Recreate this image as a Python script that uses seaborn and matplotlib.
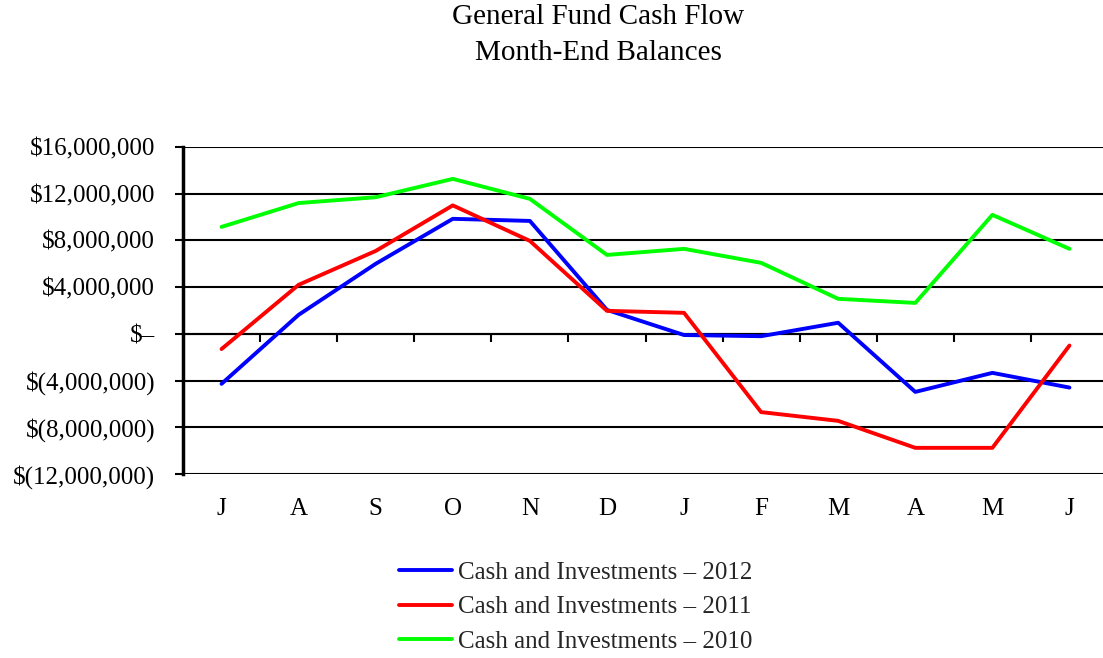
import matplotlib
matplotlib.use("Agg")
import matplotlib.pyplot as plt
import seaborn as sns
import pandas as pd
import numpy as np
from matplotlib.ticker import FixedLocator, FixedFormatter

months = ["J", "A", "S", "O", "N", "D", "J", "F", "M", "A", "M", "J"]
cash_2012 = [-4.28, 1.63, 6.0, 9.85, 9.67, 2.05, -0.1, -0.2, 0.95, -4.97, -3.34, -4.6]
cash_2011 = [-1.3, 4.2, 7.1, 11.0, 7.96, 1.97, 1.8, -6.7, -7.45, -9.76, -9.76, -1.0]
cash_2010 = [9.16, 11.2, 11.7, 13.27, 11.56, 6.76, 7.28, 6.08, 3.0, 2.65, 10.19, 7.28]
series_names = ["Cash and Investments \u2013 2012",
                "Cash and Investments \u2013 2011",
                "Cash and Investments \u2013 2010"]
y_ticks = [16, 12, 8, 4, 0, -4, -8, -12]
y_labels = ["$16,000,000", "$12,000,000", "$8,000,000", "$4,000,000", "$\u2013",
            "$(4,000,000)", "$(8,000,000)", "$(12,000,000)"]
title = "General Fund Cash Flow\nMonth-End Balances"
colors = ["#0000FF", "#FF0000", "#00FF00"]

sns.set_style("white")
plt.rcParams["font.family"] = ["Liberation Serif", "DejaVu Serif"]

rows = []
for name, vals in zip(series_names, [cash_2012, cash_2011, cash_2010]):
    for i, v in enumerate(vals):
        rows.append({"idx": i, "value": v * 1e6, "series": name})
df = pd.DataFrame(rows)

fig = plt.figure(figsize=(11.03, 6.58), dpi=100)
ax = fig.add_axes([183 / 1103, 1 - 474 / 658, (1108 - 183) / 1103, (474 - 147) / 658])

sns.lineplot(data=df, x="idx", y="value", hue="series", hue_order=series_names,
             palette=colors, linewidth=2.8, ax=ax, legend=False, zorder=3)

ax.set_xlim(-0.5, len(months) - 0.5)
ax.set_ylim(y_ticks[-1] * 1e6, y_ticks[0] * 1e6)

# y axis
ax.yaxis.set_major_locator(FixedLocator([t * 1e6 for t in y_ticks]))
ax.yaxis.set_major_formatter(FixedFormatter(y_labels))
ax.tick_params(axis="y", which="major", direction="out", length=6, width=1.5,
               color="black", labelsize=18, pad=14, left=True)
ax.yaxis.grid(True, color="black", linewidth=1.5)
for t in ax.get_yticklabels():
    t.set_color("black")

# spines
ax.spines["left"].set_linewidth(2.5)
ax.spines["left"].set_color("black")
ax.spines["right"].set_visible(False)
ax.spines["top"].set_visible(False)
ax.spines["bottom"].set_position(("data", 0))
ax.spines["bottom"].set_linewidth(1.5)
ax.spines["bottom"].set_color("black")

# primary x axis: boundary ticks on the zero line, no labels
ax.xaxis.set_major_locator(FixedLocator(np.arange(0.5, len(months) - 0.5, 1.0)))
ax.xaxis.set_major_formatter(FixedFormatter([""] * (len(months) - 1)))
ax.tick_params(axis="x", which="major", direction="out", length=6, width=1.5,
               color="black", bottom=True)
ax.set_xlabel("")
ax.set_ylabel("")

# secondary x axis for the month labels at the bottom
sec = ax.secondary_xaxis(0)
sec.xaxis.set_major_locator(FixedLocator(np.arange(len(months))))
sec.xaxis.set_major_formatter(FixedFormatter(months))
sec.tick_params(axis="x", length=0, pad=17, labelsize=18, colors="black")
sec.spines["bottom"].set_visible(False)

fig.text(598 / 1103, 1 - 35 / 658, title, ha="center", va="center", fontsize=21,
         linespacing=1.45, color="black")

handles = [plt.Line2D([], [], color=c, linewidth=2.8) for c in colors]
fig.legend(handles, series_names, loc="center", bbox_to_anchor=(576 / 1103, 1 - 607 / 658),
           frameon=False, fontsize=18, handlelength=2.1, handletextpad=0.25,
           labelspacing=0.47, ncol=1, borderpad=0)

fig.savefig("out.png", dpi=100)
